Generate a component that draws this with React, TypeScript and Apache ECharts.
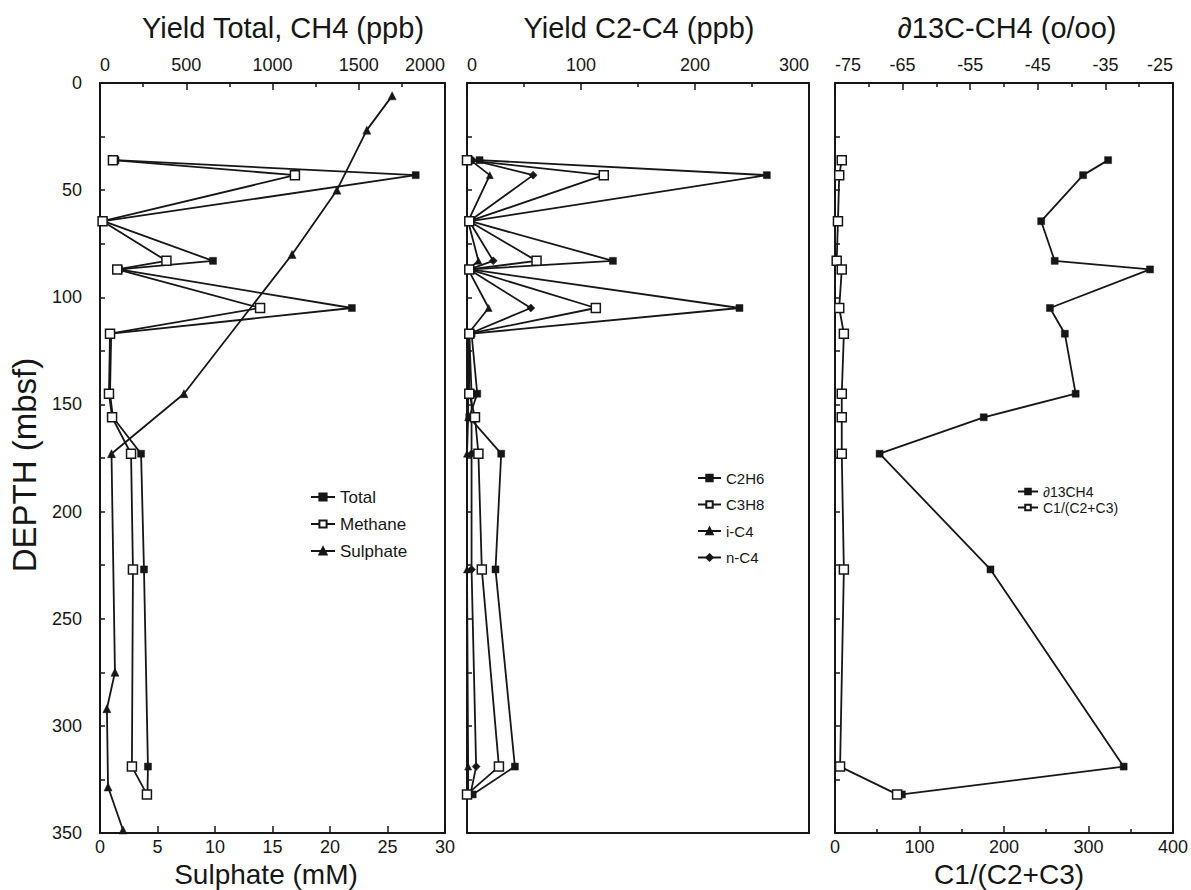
import React, { useEffect, useRef } from "react";
import * as echarts from "echarts";

const gasDepth = [36, 43, 64.5, 83, 87, 105, 117, 145, 156, 173, 227, 319, 332];
const totalYield = [90, 1830, 20, 655, 110, 1460, 65, 58, 75, 238, 255, 278, 275];
const methaneYield = [75, 1130, 15, 385, 100, 928, 58, 52, 70, 180, 191, 185, 272];

const sulphateDepth = [6, 22, 50, 80, 145, 173, 275, 292, 328.5, 348.6];
const sulphateValues = [25.4, 23.2, 20.6, 16.7, 7.3, 1.0, 1.3, 0.6, 0.7, 2.0];

const c2h6 = [11, 263, 3, 128, 3, 239, 4, 9, 2, 30, 25, 42, 5];
const c3h8 = [0, 120, 2, 61, 2, 113, 2, 2, 7, 10, 13, 28, 0];
const iC4 = [3, 20, 1, 10, 1, 19, 1, 1, 1, 0, 0, 1, 1];
const nC4 = [5, 58, 2, 23, 2, 56, 2, 4, 4, 4, 4, 8, 3];

const d13C = [-34.6, -38.3, -44.5, -42.5, -28.4, -43.2, -41.0, -39.4, -53, -68.4, -52, -32.3, -65.1];
const c1Ratio = [8, 5, 3.5, 2, 8, 5, 10.5, 8, 8, 8, 10.5, 6, 73.5];

const titles = ["Yield Total, CH4 (ppb)", "Yield C2-C4 (ppb)", "∂13C-CH4 (o/oo)"];
const FONT = "'Liberation Sans', Arial, Helvetica, sans-serif";
const INK = "#161616";

const pairs = (xs: number[], ys: number[]) => xs.map((v, i) => [v, ys[i]]);

function lineSeries(name: string, xi: number, yi: number, data: number[][], symbol: string, size: number, open: boolean) {
  return {
    name,
    type: "line",
    xAxisIndex: xi,
    yAxisIndex: yi,
    data,
    symbol,
    symbolSize: size,
    showSymbol: true,
    showAllSymbol: true,
    lineStyle: { color: INK, width: 1.8 },
    itemStyle: open
      ? { color: "#ffffff", borderColor: INK, borderWidth: 1.5 }
      : { color: INK, borderColor: INK, borderWidth: 0.5 },
    z: open ? 4 : 3,
    emphasis: { disabled: true },
  };
}

const lineStyle = { color: INK, width: 2 };

function xAx(grid: number, position: string, min: number, max: number, interval: number, opts: any = {}) {
  const top = position === "top";
  return {
    type: "value",
    gridIndex: grid,
    position,
    min,
    max,
    interval,
    axisLine: { show: true, onZero: false, lineStyle },
    axisTick: { show: opts.ticks !== false, inside: true, length: 7, lineStyle: { color: INK, width: 1.5 } },
    minorTick: { show: !!opts.minor, splitNumber: 2, length: 4, lineStyle: { color: INK, width: 1.5 } },
    axisLabel: {
      show: opts.labels !== false,
      fontSize: 18,
      color: INK,
      fontFamily: FONT,
      margin: top ? 9 : 5,
      formatter: (v: number) => String(v),
      alignMinLabel: top ? "left" : "center",
      alignMaxLabel: top ? "right" : "center",
    },
    splitLine: { show: false },
    minorSplitLine: { show: false },
  };
}

function yAx(grid: number, position: string, opts: any = {}) {
  return {
    type: "value",
    gridIndex: grid,
    position,
    inverse: true,
    min: 0,
    max: 350,
    interval: 50,
    axisLine: { show: true, onZero: false, lineStyle },
    axisTick: { show: opts.ticks !== false, inside: true, length: 5, lineStyle: { color: INK, width: 1.5 } },
    minorTick: { show: opts.ticks !== false, splitNumber: 2, length: 5, lineStyle: { color: INK, width: 1.5 } },
    axisLabel: { show: !!opts.labels, fontSize: 18, color: INK, fontFamily: FONT, margin: 18 },
    splitLine: { show: false },
    minorSplitLine: { show: false },
  };
}

function txt(x: number, y: number, text: string, size: number, rotation = 0) {
  return {
    type: "text",
    x,
    y,
    rotation,
    style: { text, fontSize: size, fontFamily: FONT, fill: INK, align: "center", verticalAlign: "middle" },
  };
}

export default function App() {
  const ref = useRef<HTMLDivElement>(null);
  useEffect(() => {
    if (!ref.current) return;
    const chart = echarts.init(ref.current, undefined, { renderer: "svg" });
    const option: any = {
      animation: false,
      backgroundColor: "#ffffff",
      grid: [
        { left: 100, top: 83, width: 345, height: 750 },
        { left: 467, top: 83, width: 342, height: 750 },
        { left: 835, top: 83, width: 343, height: 750 },
      ],
      xAxis: [
        xAx(0, "top", 0, 2000, 500, { minor: true }),
        xAx(0, "bottom", 0, 30, 5),
        xAx(1, "top", 0, 300, 100, { minor: true }),
        xAx(1, "bottom", 0, 300, 100, { ticks: false, labels: false }),
        xAx(2, "top", -75, -25, 10, { minor: true }),
        xAx(2, "bottom", 0, 400, 100, { minor: true }),
      ],
      yAxis: [
        yAx(0, "left", { labels: true }),
        yAx(0, "right", { ticks: false }),
        yAx(1, "left"),
        yAx(1, "right", { ticks: false }),
        yAx(2, "left"),
        yAx(2, "right", { ticks: false }),
      ],
      legend: [
        {
          orient: "vertical", left: 305, top: 483, selectedMode: false,
          data: ["Total", "Methane", "Sulphate"],
          itemWidth: 24, itemHeight: 9, itemGap: 9,
          textStyle: { fontSize: 17, lineHeight: 18, fontFamily: FONT, color: INK },
        },
        {
          orient: "vertical", left: 692, top: 465, selectedMode: false,
          data: ["C2H6", "C3H8", "i-C4", "n-C4"],
          itemWidth: 23, itemHeight: 8, itemGap: 10.5,
          textStyle: { fontSize: 15, lineHeight: 16, fontFamily: FONT, color: INK },
        },
        {
          orient: "vertical", left: 1012, top: 479, selectedMode: false,
          data: ["∂13CH4", "C1/(C2+C3)"],
          itemWidth: 20, itemHeight: 7, itemGap: 1,
          textStyle: { fontSize: 14, lineHeight: 15, fontFamily: FONT, color: INK },
        },
      ],
      series: [
        lineSeries("Sulphate", 1, 0, pairs(sulphateValues, sulphateDepth), "triangle", 8, false),
        lineSeries("Total", 0, 0, pairs(totalYield, gasDepth), "rect", 7, false),
        lineSeries("Methane", 0, 0, pairs(methaneYield, gasDepth), "rect", 9, true),
        lineSeries("C2H6", 2, 2, pairs(c2h6, gasDepth), "rect", 7, false),
        lineSeries("C3H8", 2, 2, pairs(c3h8, gasDepth), "rect", 9, true),
        lineSeries("i-C4", 2, 2, pairs(iC4, gasDepth), "triangle", 7, false),
        lineSeries("n-C4", 2, 2, pairs(nC4, gasDepth), "diamond", 8, false),
        lineSeries("∂13CH4", 4, 4, pairs(d13C, gasDepth), "rect", 7, false),
        lineSeries("C1/(C2+C3)", 5, 4, pairs(c1Ratio, gasDepth), "rect", 9, true),
      ],
      graphic: [
        txt(283, 28, titles[0], 29),
        txt(639, 28, titles[1], 29),
        txt(1007, 28, titles[2], 29),
        txt(266, 874, "Sulphate (mM)", 28),
        txt(1009, 874, "C1/(C2+C3)", 28),
        txt(24, 465, "DEPTH (mbsf)", 33, Math.PI / 2),
      ],
    };
    chart.setOption(option);
    return () => chart.dispose();
  }, []);
  return (
    <div
      ref={ref}
      style={{ position: "fixed", left: 0, top: 0, width: 1191, height: 890, background: "#fff" }}
    />
  );
}
